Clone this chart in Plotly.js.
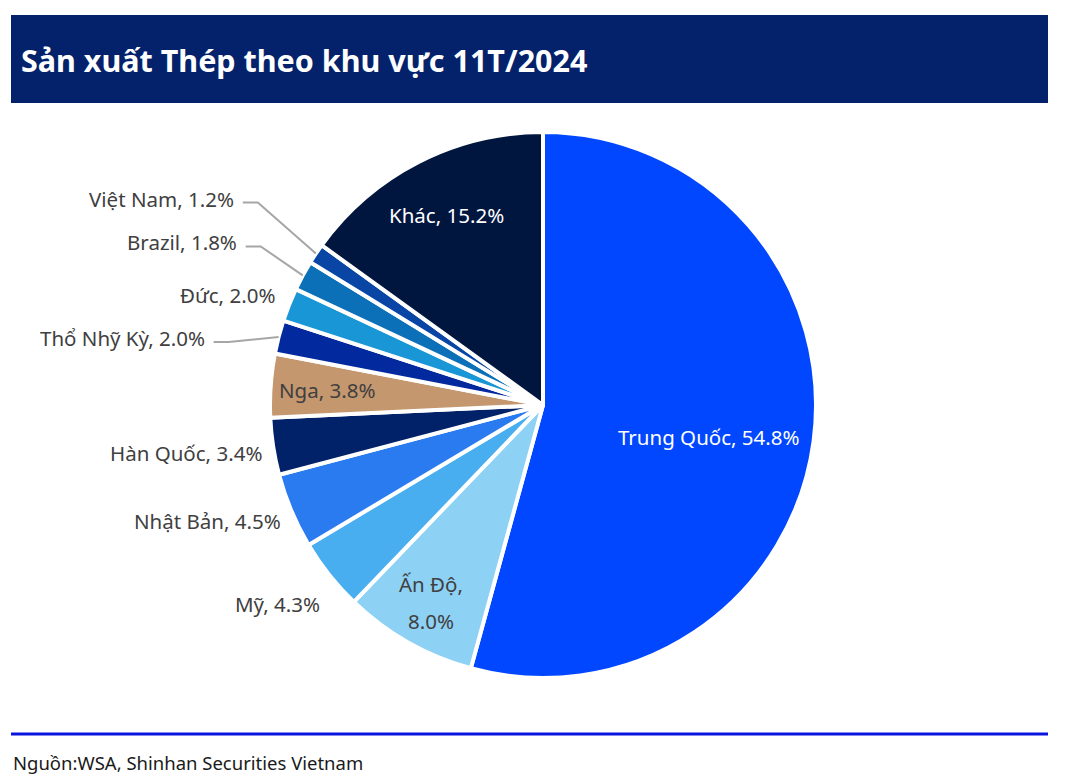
<!DOCTYPE html>
<html>
<head>
<meta charset="utf-8">
<script src="https://cdn.plot.ly/plotly-3.0.1.min.js"></script>
<style>html,body{margin:0;padding:0;background:#fff}#chart{width:1069px;height:779px}</style>
</head>
<body>
<div id="chart"></div>
<script>
// ---- data ----
const regions = ['Trung Quốc','Ấn Độ','Mỹ','Nhật Bản','Hàn Quốc','Nga','Thổ Nhỹ Kỳ','Đức','Brazil','Việt Nam','Khác'];
const shares  = [54.8, 8.0, 4.3, 4.5, 3.4, 3.8, 2.0, 2.0, 1.8, 1.2, 15.2];
const titleText = 'Sản xuất Thép theo khu vực 11T/2024';
const sourceText = 'Nguồn:WSA, Shinhan Securities Vietnam';

// ---- styles ----
const colors = ['#0047FF','#8DD1F4','#48AEF0','#2B7BF0','#012169','#C4976E','#03299E','#1896D6','#0B70B7','#0845A5','#01163F'];
const labelStyle = [
  {pos:'in', rf:0.615, dy:10, color:'#ffffff'},
  {pos:'in2', rf:0.83, dy:0, color:'#404040'},
  {pos:'out', dx:-7, dy:29},
  {pos:'out', dx:-8, dy:10},
  {pos:'out', dx:-9, dy:7},
  {pos:'in', rf:0.79, dy:0, color:'#404040'},
  {pos:'line', dx:-72, dy:1},
  {pos:'out', dx:-12, dy:-10},
  {pos:'line', dx:-64, dy:-33},
  {pos:'line', dx:-80, dy:-55},
  {pos:'in', rf:0.78, dy:0, color:'#ffffff'}
];

const W = 1069, H = 779;
const cx = 543, cy = 405, R = 273;
const px = x => x / W;
const py = y => 1 - y / H;
const FONT = '"Noto Sans", "Open Sans", sans-serif';
const LBL = 20.5;

const total = shares.reduce((a,b)=>a+b,0);
const annotations = [];
const shapes = [];

// banner + bottom rule
shapes.push({type:'rect', xref:'paper', yref:'paper', x0:px(11), x1:px(1048), y0:py(103), y1:py(15), fillcolor:'#03226B', line:{width:0}, layer:'below'});
shapes.push({type:'line', xref:'paper', yref:'paper', x0:px(11), x1:px(1048), y0:py(734), y1:py(734), line:{color:'#0A14E0', width:3}});

annotations.push({text:'<b>'+titleText+'</b>', xref:'paper', yref:'paper', x:px(19), y:py(60), xanchor:'left', yanchor:'middle', showarrow:false, font:{family:FONT, size:30.5, color:'#ffffff'}});
annotations.push({text:sourceText, xref:'paper', yref:'paper', x:px(11), y:py(762), xanchor:'left', yanchor:'middle', showarrow:false, font:{family:FONT, size:18.5, color:'#1a1a1a'}});

let cum = 0;
regions.forEach((name, i) => {
  const mid = (cum + shares[i] / 2) / total * 2 * Math.PI;
  cum += shares[i];
  const s = Math.sin(mid), c = Math.cos(mid);
  const st = labelStyle[i];
  const txt = name + ', ' + shares[i].toFixed(1) + '%';
  if (st.pos === 'in' || st.pos === 'in2') {
    const x = cx + st.rf * R * s, y = cy - st.rf * R * c + st.dy;
    if (st.pos === 'in') {
      annotations.push({text:txt, xref:'paper', yref:'paper', x:px(x), y:py(y), xanchor:'center', yanchor:'middle', showarrow:false, font:{family:FONT, size:LBL, color:st.color}});
    } else {
      annotations.push({text:name + ',', xref:'paper', yref:'paper', x:px(x), y:py(y-18), xanchor:'center', yanchor:'middle', showarrow:false, font:{family:FONT, size:LBL, color:st.color}});
      annotations.push({text:shares[i].toFixed(1) + '%', xref:'paper', yref:'paper', x:px(x), y:py(y+19), xanchor:'center', yanchor:'middle', showarrow:false, font:{family:FONT, size:LBL, color:st.color}});
    }
  } else {
    const ex = cx + R * s, ey = cy - R * c;
    const lx = ex + st.dx, ly = ey + st.dy;
    annotations.push({text:txt, xref:'paper', yref:'paper', x:px(lx), y:py(ly), xanchor:'right', yanchor:'middle', showarrow:false, font:{family:FONT, size:LBL, color:'#404040'}});
    if (st.pos === 'line') {
      const sx = lx + 7, sy = ly + 4;
      const bx = sx + 15;
      shapes.push({type:'path', xref:'paper', yref:'paper',
        path:'M '+px(sx)+','+py(sy)+' L '+px(bx)+','+py(sy)+' L '+px(ex)+','+py(ey),
        line:{color:'#A6A6A6', width:2}});
    }
  }
});

const trace = {
  type:'pie',
  labels:regions,
  values:shares,
  sort:false,
  direction:'clockwise',
  rotation:0,
  textinfo:'none',
  hoverinfo:'label+value',
  marker:{colors:colors, line:{color:'#ffffff', width:4}},
  domain:{x:[px(270), px(816)], y:[py(678), py(132)]},
  showlegend:false
};

const layout = {
  width:W, height:H,
  margin:{l:0, r:0, t:0, b:0},
  paper_bgcolor:'#ffffff',
  showlegend:false,
  shapes:shapes,
  annotations:annotations,
  font:{family:FONT}
};

Plotly.newPlot('chart', [trace], layout, {displayModeBar:false, staticPlot:true});
</script>
</body>
</html>
